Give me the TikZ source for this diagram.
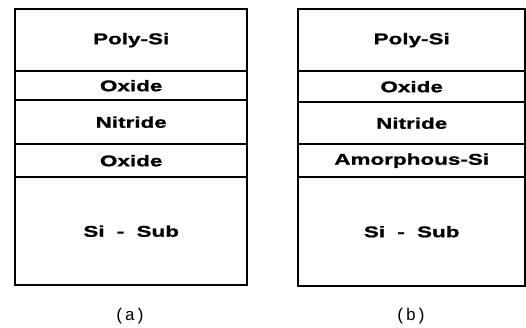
\documentclass[tikz,border=0pt]{standalone}
\usepackage{fontspec}
\setmainfont{Liberation Sans}
\newfontfamily\layerfont[FakeStretch=1.45,FakeBold=1.2]{Liberation Sans}
\newfontfamily\capfont{Liberation Mono}
\tikzset{
  x=1pt, y=-1pt,
  layer/.style={draw, line width=2.4pt, anchor=north west, inner sep=0pt,
    font=\layerfont\fontsize{15.5}{15.5}\selectfont\bfseries},
  caption/.style={font=\capfont\fontsize{17}{17}\selectfont, inner sep=0pt}
}
\newcommand{\lay}[6]{% name, x, ytop, width, height, text
  \node[layer, minimum width=#4pt, minimum height=#5pt] (#1) at (#2,#3) {\raisebox{-2pt}{#6}};}
\begin{document}
\begin{tikzpicture}
\useasboundingbox (0,0) rectangle (526,328);
% (a)
\lay{apoly}{14}{8}{232}{62}{Poly-Si}
\lay{aox1}{14}{70}{232}{29}{Oxide}
\lay{anit}{14}{99}{232}{44}{Nitride}
\lay{aox2}{14}{143}{232}{33}{Oxide}
\lay{asub}{14}{176}{232}{108}{Si\hspace{6pt} -\hspace{6pt} Sub}
\node[caption] (capa) at (130,316) {(a)};
% (b)
\lay{bpoly}{297}{8}{227}{62}{Poly-Si}
\lay{box1}{297}{70}{227}{31}{Oxide}
\lay{bnit}{297}{101}{227}{42}{Nitride}
\lay{bamo}{297}{143}{227}{33}{Amorphous-Si}
\lay{bsub}{297}{176}{227}{109}{Si\hspace{6pt} -\hspace{6pt} Sub}
\node[caption] (capb) at (411,316) {(b)};
\end{tikzpicture}
\end{document}
